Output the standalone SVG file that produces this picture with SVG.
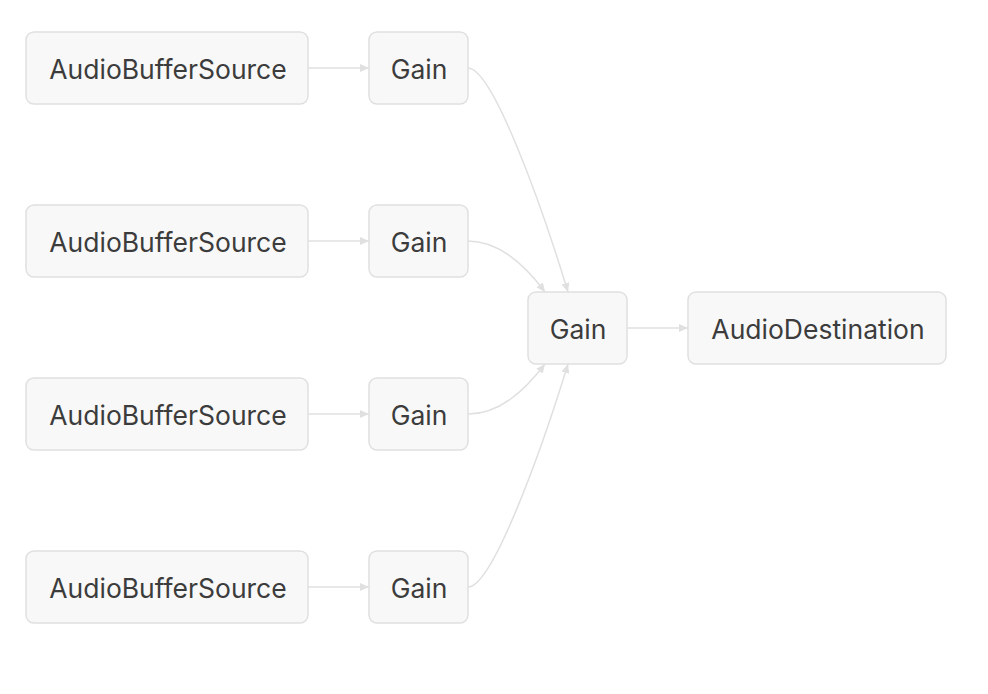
<svg xmlns="http://www.w3.org/2000/svg" width="988" height="694" viewBox="0 0 988 694">
<style>
.node rect{fill:#f8f8f8;stroke:#e0e0e0;stroke-width:1.5}
.node text{font-family:Inter,"Liberation Sans",Arial,sans-serif;font-size:26.5px;fill:#3c3c3c;text-anchor:middle;dominant-baseline:central}
.edges path{fill:none;stroke:#e0e0e0;stroke-width:1.5;marker-end:url(#arr)}
</style>
<defs>
<marker id="arr" markerUnits="userSpaceOnUse" markerWidth="10" markerHeight="10" refX="9" refY="5" orient="auto" viewBox="0 0 10 10">
<path d="M0,1 L9,5 L0,9 z" fill="#e0e0e0"/>
</marker>
</defs>
<rect width="988" height="694" fill="#fff"/>
<g class="edges">
<path d="M308,68 L369,68"/>
<path d="M308,241 L369,241"/>
<path d="M308,414 L369,414"/>
<path d="M308,587 L369,587"/>
<path d="M468,68 C492,68 540,200 568,292"/>
<path d="M468,241 C500,241 525,265 545,292"/>
<path d="M468,414 C500,414 525,390 545,364"/>
<path d="M468,587 C492,587 540,455 568,364"/>
<path d="M627,328 L688,328"/>
</g>
<g id="src1" class="node"><rect x="26" y="32" width="282" height="72" rx="8"/><text x="168" y="69">AudioBufferSource</text></g>
<g id="src2" class="node"><rect x="26" y="205" width="282" height="72" rx="8"/><text x="168" y="242">AudioBufferSource</text></g>
<g id="src3" class="node"><rect x="26" y="378" width="282" height="72" rx="8"/><text x="168" y="415">AudioBufferSource</text></g>
<g id="src4" class="node"><rect x="26" y="551" width="282" height="72" rx="8"/><text x="168" y="588">AudioBufferSource</text></g>
<g id="gain1" class="node"><rect x="369" y="32" width="99" height="72" rx="8"/><text x="419" y="69">Gain</text></g>
<g id="gain2" class="node"><rect x="369" y="205" width="99" height="72" rx="8"/><text x="419" y="242">Gain</text></g>
<g id="gain3" class="node"><rect x="369" y="378" width="99" height="72" rx="8"/><text x="419" y="415">Gain</text></g>
<g id="gain4" class="node"><rect x="369" y="551" width="99" height="72" rx="8"/><text x="419" y="588">Gain</text></g>
<g id="gainMix" class="node"><rect x="528" y="292" width="99" height="72" rx="8"/><text x="578" y="329">Gain</text></g>
<g id="dest" class="node"><rect x="688" y="292" width="258" height="72" rx="8"/><text x="818" y="329">AudioDestination</text></g>
</svg>
